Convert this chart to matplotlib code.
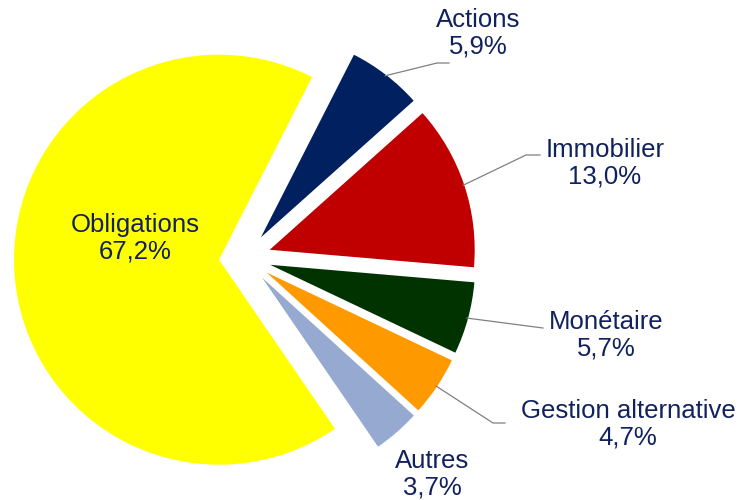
import numpy as np
import matplotlib
matplotlib.use("Agg")
import matplotlib.pyplot as plt

plt.rcParams['font.family'] = ['Liberation Sans', 'DejaVu Sans']

categories = ['Actions', 'Immobilier', 'Monétaire', 'Gestion alternative', 'Autres', 'Obligations']
values = [5.9, 13.0, 5.7, 4.7, 3.7, 67.2]
value_labels = ['5,9%', '13,0%', '5,7%', '4,7%', '3,7%', '67,2%']
colors = ['#002060', '#C00000', '#003300', '#FF9900', '#95A9D1', '#FFFF00']

TEXT_COLOR = '#10215E'
LINE_COLOR = '#808080'

# pie geometry in pixels (center, radius) so data units map 1:1 to the image
CX, CY, R = 245, 258, 205
W, H = 744, 500


def px(x, y):
    return (x - CX) / R, (CY - y) / R


# label block centres (pixels) and leader line elbow / end (pixels)
label_pos = [(478, 33), (605, 163), (606, 335), (628, 424), (432, 474), (135, 238)]
leader = [((437, 63), (449, 63)),
          ((526, 155), (540, 155)),
          (None, (543, 328)),
          ((493, 423), (505, 423)),
          None,
          None]

fig = plt.figure(figsize=(W / 100, H / 100), dpi=100)
ax = fig.add_axes([0, 0, 1, 1])

wedges, _ = ax.pie(values, colors=colors, startangle=63, counterclock=False,
                   explode=[0.127] * len(values), radius=1.0,
                   wedgeprops=dict(linewidth=0))

ax.set_aspect('auto')
ax.set_xlim(px(0, 0)[0], px(W, 0)[0])
ax.set_ylim(px(0, H)[1], px(0, 0)[1])
ax.axis('off')

for i, w in enumerate(wedges):
    lx, ly = px(*label_pos[i])
    ax.text(lx, ly, categories[i] + '\n' + value_labels[i], ha='center', va='center',
            fontsize=18.5, color=TEXT_COLOR, linespacing=1.15)
    if leader[i] is None:
        continue
    mid = np.deg2rad((w.theta1 + w.theta2) / 2)
    sx = w.center[0] + w.r * np.cos(mid) * 0.995
    sy = w.center[1] + w.r * np.sin(mid) * 0.995
    elbow, end = leader[i]
    xs, ys = [sx], [sy]
    if elbow is not None:
        ex, ey = px(*elbow)
        xs.append(ex)
        ys.append(ey)
    ex, ey = px(*end)
    xs.append(ex)
    ys.append(ey)
    ax.plot(xs, ys, color=LINE_COLOR, linewidth=0.9)

fig.savefig('out.png', dpi=100)
